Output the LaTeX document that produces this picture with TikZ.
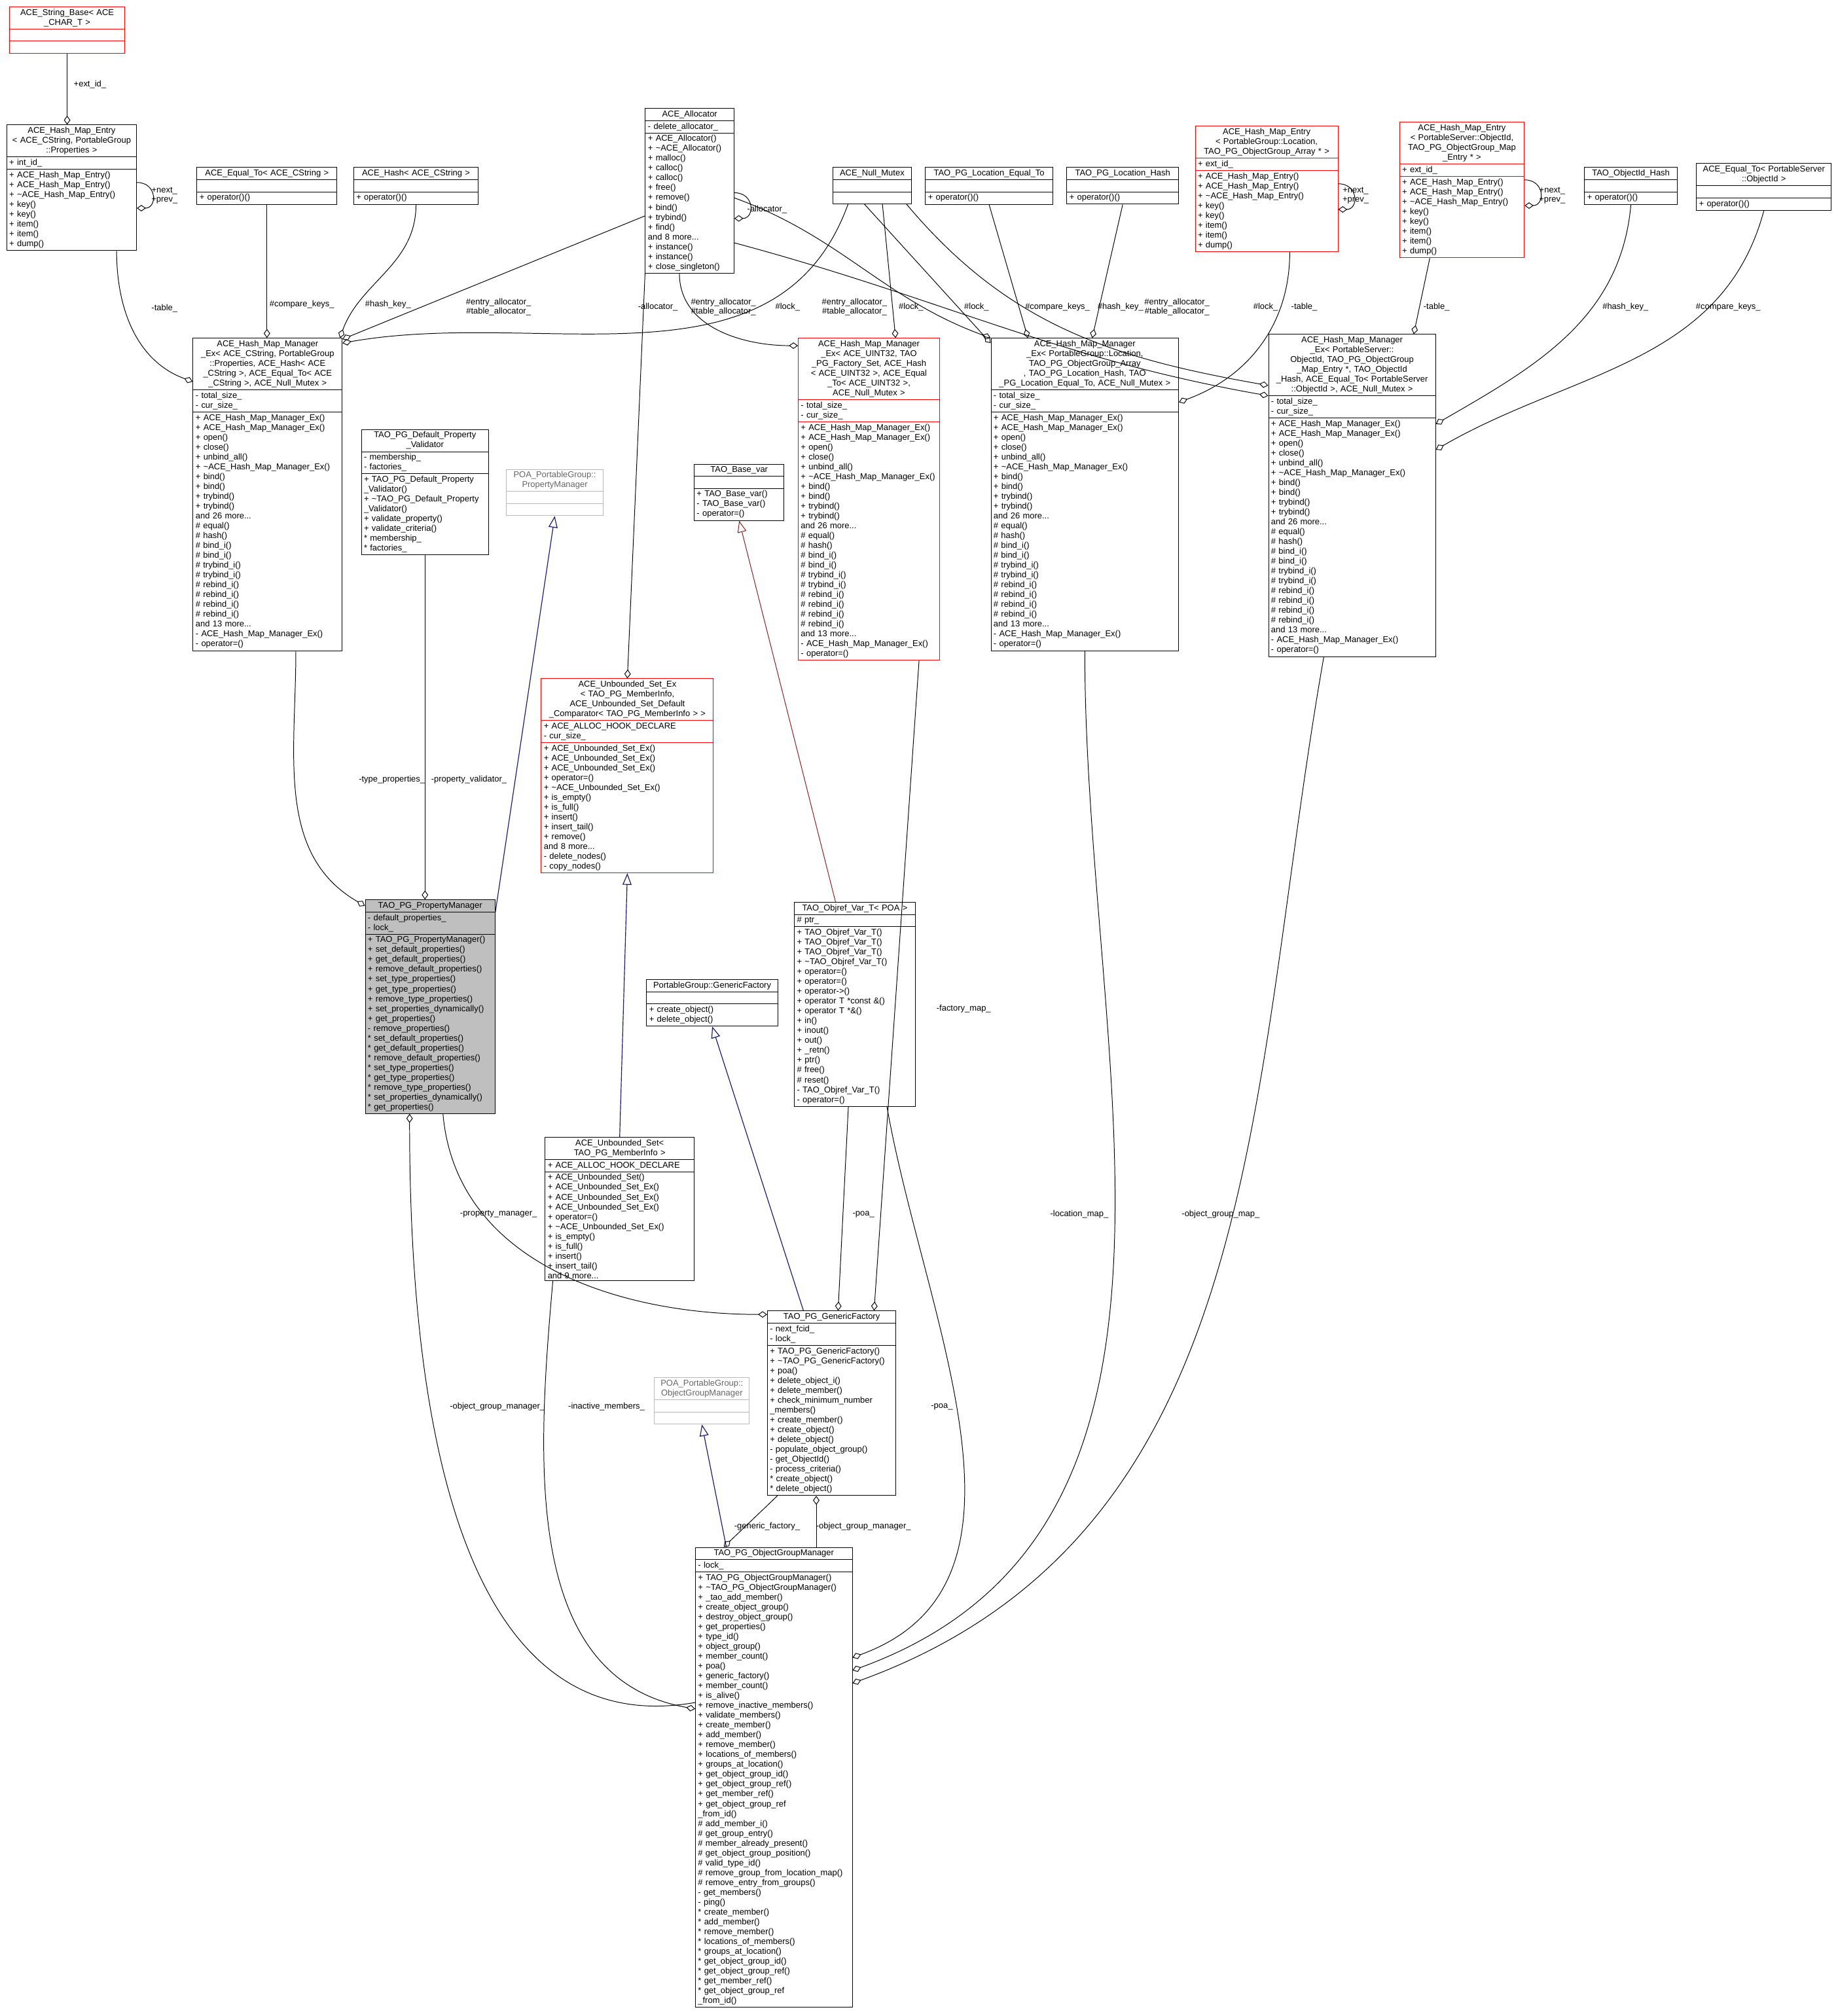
\documentclass[tikz,border=0pt]{standalone}
\usepackage{fontspec}
\setmainfont{Liberation Sans}
\usetikzlibrary{shapes.multipart,arrows.meta}

\definecolor{inhblue}{RGB}{25,25,112}
\definecolor{tmplred}{RGB}{139,26,26}
\definecolor{pmgray}{RGB}{191,191,191}

\newcommand{\umlclass}[7]{%
  \node[umlbox,#4,text width=#3pt] (#1) at (#2) {\centering #5\par\nodepart{second}#6\nodepart{third}#7};}
\newcommand{\nil}{\vphantom{Ag}}
\newcommand{\st}{{}* }
\newcommand{\HMMattr}{- total\_size\_\\- cur\_size\_}
\newcommand{\HMMops}{+ ACE\_Hash\_Map\_Manager\_Ex()\\+ ACE\_Hash\_Map\_Manager\_Ex()\\+ open()\\+ close()\\+ unbind\_all()\\+ \textasciitilde ACE\_Hash\_Map\_Manager\_Ex()\\+ bind()\\+ bind()\\+ trybind()\\+ trybind()\\and 26 more...\\\# equal()\\\# hash()\\\# bind\_i()\\\# bind\_i()\\\# trybind\_i()\\\# trybind\_i()\\\# rebind\_i()\\\# rebind\_i()\\\# rebind\_i()\\\# rebind\_i()\\and 13 more...\\- ACE\_Hash\_Map\_Manager\_Ex()\\- operator=()}
\newcommand{\Entryops}{+ ACE\_Hash\_Map\_Entry()\\+ ACE\_Hash\_Map\_Entry()\\+ \textasciitilde ACE\_Hash\_Map\_Entry()\\+ key()\\+ key()\\+ item()\\+ item()\\+ dump()}

\tikzset{
  umlbox/.style={rectangle split, rectangle split parts=3, draw, anchor=north west,
    align=left, inner xsep=2pt, inner ysep=1.5pt, font=\fontsize{6.6}{7.65}\selectfont, line width=0.5pt},
  redbox/.style={draw=red},
  poabox/.style={draw=gray!55, text=gray!80!black},
  curbox/.style={fill=pmgray},
  lbl/.style={font=\fontsize{6.6}{7.2}\selectfont, align=center, inner sep=0pt},
  agg/.style={draw, line width=0.5pt, -{Diamond[open,length=7pt,width=5pt]}},
  inh/.style={draw=inhblue, line width=0.6pt, -{Triangle[open,length=9pt,width=7pt]}},
  tinh/.style={draw=tmplred, line width=0.5pt, -{Triangle[open,length=9pt,width=7pt]}}
}

\begin{document}
\begin{tikzpicture}[x=1pt,y=-1pt]
\useasboundingbox (0,0) rectangle (1430,1569);

% top row
\umlclass{strbase}{7,5}{86}{redbox}{ACE\_String\_Base< ACE\\\_CHAR\_T >}{\nil}{\nil}
\umlclass{entryA}{5,97}{97}{}{ACE\_Hash\_Map\_Entry\\< ACE\_CString, PortableGroup\\::Properties >}{+ int\_id\_}{\Entryops}
\umlclass{eqA}{153,130}{105}{}{ACE\_Equal\_To< ACE\_CString >}{\nil}{+ operator()()}
\umlclass{hashA}{275,130}{93}{}{ACE\_Hash< ACE\_CString >}{\nil}{+ operator()()}
\umlclass{alloc}{502,84}{65}{}{ACE\_Allocator}{- delete\_allocator\_}{+ ACE\_Allocator()\\+ \textasciitilde ACE\_Allocator()\\+ malloc()\\+ calloc()\\+ calloc()\\+ free()\\+ remove()\\+ bind()\\+ trybind()\\+ find()\\and 8 more...\\+ instance()\\+ instance()\\+ close\_singleton()}
\umlclass{nullmx}{648,130}{57}{}{ACE\_Null\_Mutex}{\nil}{\nil}
\umlclass{loceq}{720,130}{95}{}{TAO\_PG\_Location\_Equal\_To}{\nil}{+ operator()()}
\umlclass{lochash}{830,130}{83}{}{TAO\_PG\_Location\_Hash}{\nil}{+ operator()()}
\umlclass{entryL}{930,98}{107}{redbox}{ACE\_Hash\_Map\_Entry\\< PortableGroup::Location,\\ TAO\_PG\_ObjectGroup\_Array * >}{+ ext\_id\_}{\Entryops}
\umlclass{entryO}{1089,95}{93}{redbox}{ACE\_Hash\_Map\_Entry\\< PortableServer::ObjectId,\\ TAO\_PG\_ObjectGroup\_Map\\\_Entry * >}{+ ext\_id\_}{\Entryops}
\umlclass{oidhash}{1233,130}{68}{}{TAO\_ObjectId\_Hash}{\nil}{+ operator()()}
\umlclass{eqO}{1320,127}{101}{}{ACE\_Equal\_To< PortableServer\\::ObjectId >}{\nil}{+ operator()()}

% map managers
\umlclass{hmmA}{150,263}{112}{}{ACE\_Hash\_Map\_Manager\\\_Ex< ACE\_CString, PortableGroup\\::Properties, ACE\_Hash< ACE\\\_CString >, ACE\_Equal\_To< ACE\\\_CString >, ACE\_Null\_Mutex >}{\HMMattr}{\HMMops}
\umlclass{hmmU}{621,263}{106}{redbox}{ACE\_Hash\_Map\_Manager\\\_Ex< ACE\_UINT32, TAO\\\_PG\_Factory\_Set, ACE\_Hash\\< ACE\_UINT32 >, ACE\_Equal\\\_To< ACE\_UINT32 >, ACE\_Null\_Mutex >}{\HMMattr}{\HMMops}
\umlclass{hmmL}{771,263}{142}{}{ACE\_Hash\_Map\_Manager\\\_Ex< PortableGroup::Location,\\ TAO\_PG\_ObjectGroup\_Array\\*, TAO\_PG\_Location\_Hash, TAO\\\_PG\_Location\_Equal\_To, ACE\_Null\_Mutex >}{\HMMattr}{\HMMops}
\umlclass{hmmO}{987,260}{126}{}{ACE\_Hash\_Map\_Manager\\\_Ex< PortableServer::\\ObjectId, TAO\_PG\_ObjectGroup\\\_Map\_Entry *, TAO\_ObjectId\\\_Hash, ACE\_Equal\_To< PortableServer\\::ObjectId >, ACE\_Null\_Mutex >}{\HMMattr}{\HMMops}

\umlclass{validator}{281,334}{95}{}{TAO\_PG\_Default\_Property\\\_Validator}{- membership\_\\- factories\_}{+ TAO\_PG\_Default\_Property\\\_Validator()\\+ \textasciitilde TAO\_PG\_Default\_Property\\\_Validator()\\+ validate\_property()\\+ validate\_criteria()\\\st membership\_\\\st factories\_}
\umlclass{poapm}{394,365}{71}{poabox}{POA\_PortableGroup::\\PropertyManager}{\nil}{\nil}
\umlclass{basevar}{540,361}{66}{}{TAO\_Base\_var}{\nil}{+ TAO\_Base\_var()\\- TAO\_Base\_var()\\- operator=()}
\umlclass{usetex}{421,528}{130}{redbox}{ACE\_Unbounded\_Set\_Ex\\< TAO\_PG\_MemberInfo,\\ ACE\_Unbounded\_Set\_Default\\\_Comparator< TAO\_PG\_MemberInfo > >}{+ ACE\_ALLOC\_HOOK\_DECLARE\\- cur\_size\_}{+ ACE\_Unbounded\_Set\_Ex()\\+ ACE\_Unbounded\_Set\_Ex()\\+ ACE\_Unbounded\_Set\_Ex()\\+ operator=()\\+ \textasciitilde ACE\_Unbounded\_Set\_Ex()\\+ is\_empty()\\+ is\_full()\\+ insert()\\+ insert\_tail()\\+ remove()\\and 8 more...\\- delete\_nodes()\\- copy\_nodes()}

\umlclass{pgpm}{284,700}{97}{curbox}{TAO\_PG\_PropertyManager}{- default\_properties\_\\- lock\_}{+ TAO\_PG\_PropertyManager()\\+ set\_default\_properties()\\+ get\_default\_properties()\\+ remove\_default\_properties()\\+ set\_type\_properties()\\+ get\_type\_properties()\\+ remove\_type\_properties()\\+ set\_properties\_dynamically()\\+ get\_properties()\\- remove\_properties()\\\st set\_default\_properties()\\\st get\_default\_properties()\\\st remove\_default\_properties()\\\st set\_type\_properties()\\\st get\_type\_properties()\\\st remove\_type\_properties()\\\st set\_properties\_dynamically()\\\st get\_properties()}
\umlclass{objref}{618,702}{90}{}{TAO\_Objref\_Var\_T< POA >}{\# ptr\_}{+ TAO\_Objref\_Var\_T()\\+ TAO\_Objref\_Var\_T()\\+ TAO\_Objref\_Var\_T()\\+ \textasciitilde TAO\_Objref\_Var\_T()\\+ operator=()\\+ operator=()\\+ operator->()\\+ operator T *const \&()\\+ operator T *\&()\\+ in()\\+ inout()\\+ out()\\+ \_retn()\\+ ptr()\\\# free()\\\# reset()\\- TAO\_Objref\_Var\_T()\\- operator=()}
\umlclass{genfac}{503,762}{98}{}{PortableGroup::GenericFactory}{\nil}{+ create\_object()\\+ delete\_object()}
\umlclass{uset}{424,885}{112}{}{ACE\_Unbounded\_Set<\\ TAO\_PG\_MemberInfo >}{+ ACE\_ALLOC\_HOOK\_DECLARE}{+ ACE\_Unbounded\_Set()\\+ ACE\_Unbounded\_Set\_Ex()\\+ ACE\_Unbounded\_Set\_Ex()\\+ ACE\_Unbounded\_Set\_Ex()\\+ operator=()\\+ \textasciitilde ACE\_Unbounded\_Set\_Ex()\\+ is\_empty()\\+ is\_full()\\+ insert()\\+ insert\_tail()\\and 9 more...}
\umlclass{pgfac}{597,1020}{96}{}{TAO\_PG\_GenericFactory}{- next\_fcid\_\\- lock\_}{+ TAO\_PG\_GenericFactory()\\+ \textasciitilde TAO\_PG\_GenericFactory()\\+ poa()\\+ delete\_object\_i()\\+ delete\_member()\\+ check\_minimum\_number\\\_members()\\+ create\_member()\\+ create\_object()\\+ delete\_object()\\- populate\_object\_group()\\- get\_ObjectId()\\- process\_criteria()\\\st create\_object()\\\st delete\_object()}
\umlclass{poaogm}{509,1072}{70}{poabox}{POA\_PortableGroup::\\ObjectGroupManager}{\nil}{\nil}
\umlclass{pgogm}{541,1204}{118}{}{TAO\_PG\_ObjectGroupManager}{- lock\_}{+ TAO\_PG\_ObjectGroupManager()\\+ \textasciitilde TAO\_PG\_ObjectGroupManager()\\+ \_tao\_add\_member()\\+ create\_object\_group()\\+ destroy\_object\_group()\\+ get\_properties()\\+ type\_id()\\+ object\_group()\\+ member\_count()\\+ poa()\\+ generic\_factory()\\+ member\_count()\\+ is\_alive()\\+ remove\_inactive\_members()\\+ validate\_members()\\+ create\_member()\\+ add\_member()\\+ remove\_member()\\+ locations\_of\_members()\\+ groups\_at\_location()\\+ get\_object\_group\_id()\\+ get\_object\_group\_ref()\\+ get\_member\_ref()\\+ get\_object\_group\_ref\\\_from\_id()\\\# add\_member\_i()\\\# get\_group\_entry()\\\# member\_already\_present()\\\# get\_object\_group\_position()\\\# valid\_type\_id()\\\# remove\_group\_from\_location\_map()\\\# remove\_entry\_from\_groups()\\- get\_members()\\- ping()\\\st create\_member()\\\st add\_member()\\\st remove\_member()\\\st locations\_of\_members()\\\st groups\_at\_location()\\\st get\_object\_group\_id()\\\st get\_object\_group\_ref()\\\st get\_member\_ref()\\\st get\_object\_group\_ref\\\_from\_id()}

% connectors of the top row
\draw[agg] (strbase.south) -- (strbase.south |- entryA.north);
\draw[agg] ([yshift=-45pt]entryA.north east) .. controls +(16,0) and +(16,0) .. ([yshift=-65pt]entryA.north east);
\draw[agg] ([xshift=35pt]entryA.south) to[out=-90,in=160] ([yshift=-34pt]hmmA.north west);
\draw[agg] (eqA.south) -- (eqA.south |- hmmA.north);
\draw[agg] (hashA.south) to[out=-90,in=70] ([xshift=-2pt]hmmA.north east);
\draw[agg] ([yshift=-84pt]alloc.north west) -- ([yshift=-1pt]hmmA.north east);
\draw[agg] ([yshift=-66pt]alloc.north east) .. controls +(16,0) and +(16,0) .. ([yshift=-86pt]alloc.north east);
\draw[agg] ([xshift=12pt]nullmx.south west) to[out=-110,in=10] ([yshift=-4pt]hmmA.north east);
\draw[agg] ([xshift=-8pt]alloc.south) to[out=-90,in=180] ([yshift=-6pt]hmmU.north west);
\draw[agg] ([xshift=8pt]nullmx.south) -- ([xshift=76pt]hmmU.north west);
\draw[agg] ([yshift=-70pt]alloc.north east) to[out=-20,in=160] (hmmL.north west);
\draw[agg] ([xshift=-6pt]nullmx.south) -- ([yshift=-4pt]hmmL.north west);
\draw[agg] (loceq.south) -- ([xshift=29pt]hmmL.north west);
\draw[agg] (lochash.south) -- ([xshift=79pt]hmmL.north west);
\draw[agg] ([yshift=-105pt]alloc.north east) to[out=-15,in=170] ([yshift=-48pt]hmmO.north west);
\draw[agg] ([xshift=-4pt]nullmx.south east) to[out=-50,in=170] ([yshift=-40pt]hmmO.north west);
\draw[agg] ([xshift=18pt]entryL.south) to[out=-90,in=20] ([yshift=-50pt]hmmL.north east);
\draw[agg] ([yshift=-45pt]entryL.north east) .. controls +(16,0) and +(16,0) .. ([yshift=-65pt]entryL.north east);
\draw[agg] ([xshift=-25pt]entryO.south) -- ([xshift=48pt]hmmO.north);
\draw[agg] ([yshift=-45pt]entryO.north east) .. controls +(16,0) and +(16,0) .. ([yshift=-65pt]entryO.north east);
\draw[agg] (oidhash.south) to[out=-95,in=30] ([yshift=-70pt]hmmO.north east);
\draw[agg] (eqO.south) to[out=-105,in=30] ([yshift=-90pt]hmmO.north east);

% connectors of the lower part
\draw[agg] ([xshift=22pt]hmmA.south) to[out=-90,in=150] ([yshift=-5pt]pgpm.north west);
\draw[agg] (validator.south) -- (validator.south |- pgpm.north);
\draw[inh] ([yshift=-10pt]pgpm.north east) -- (poapm.south);
\draw[agg] (alloc.south west) -- (usetex.north);
\draw[tinh] ([xshift=-15pt]objref.north) -- (basevar.south);
\draw[inh] (uset.north) -- (usetex.south);
\draw[inh] ([xshift=-22pt]pgfac.north) -- (genfac.south);
\draw[agg] ([xshift=39pt]hmmU.south) -- ([xshift=33pt]pgfac.north);
\draw[agg] ([xshift=-5pt]objref.south) -- ([xshift=5pt]pgfac.north);
\draw[agg] ([xshift=10pt]pgpm.south) to[out=-85,in=180] ([yshift=-3pt]pgfac.north west);
\draw[inh] ([xshift=-37pt]pgogm.north) -- (poaogm.south);
\draw[agg] ([xshift=8pt]pgfac.south west) -- ([xshift=-39pt]pgogm.north);
\draw[agg] ([xshift=33pt]pgogm.north) -- ([xshift=-12pt]pgfac.south);
\draw[agg] ([yshift=-121pt]pgogm.north west) to[out=190,in=-90] ([xshift=-16pt]pgpm.south);
\draw[agg] ([xshift=-52pt]uset.south) to[out=-95,in=170] ([yshift=-126pt]pgogm.north west);
\draw[agg] ([xshift=25pt]objref.south) to[out=-80,in=20] ([yshift=-86pt]pgogm.north east);
\draw[agg] (hmmL.south) to[out=-90,in=20] ([yshift=-96pt]pgogm.north east);
\draw[agg] ([xshift=-22pt]hmmO.south) to[out=-100,in=20] ([yshift=-106pt]pgogm.north east);

% connector labels
\node[lbl] (lextid) at (70,66) {+ext\_id\_};
\node[lbl] (lnextA) at (128,152) {+next\_\\+prev\_};
\node[lbl] (ltableA) at (128,240) {-table\_};
\node[lbl] (lcmpA) at (235,237) {\#compare\_keys\_};
\node[lbl] (lhashA) at (302,237) {\#hash\_key\_};
\node[lbl] (lallocA) at (388,239) {\#entry\_allocator\_\\\#table\_allocator\_};
\node[lbl] (lselfalloc) at (597,163) {-allocator\_};
\node[lbl] (lallocS) at (512,239) {-allocator\_};
\node[lbl] (lallocU) at (563,239) {\#entry\_allocator\_\\\#table\_allocator\_};
\node[lbl] (llockA) at (613,239) {\#lock\_};
\node[lbl] (lallocL) at (665,239) {\#entry\_allocator\_\\\#table\_allocator\_};
\node[lbl] (llockU) at (709,239) {\#lock\_};
\node[lbl] (llockL) at (760,239) {\#lock\_};
\node[lbl] (lcmpL) at (823,239) {\#compare\_keys\_};
\node[lbl] (lhashL) at (872,239) {\#hash\_key\_};
\node[lbl] (lallocO) at (916,239) {\#entry\_allocator\_\\\#table\_allocator\_};
\node[lbl] (llockO) at (985,239) {\#lock\_};
\node[lbl] (ltableL) at (1015,239) {-table\_};
\node[lbl] (lnextL) at (1055,152) {+next\_\\+prev\_};
\node[lbl] (ltableO) at (1118,239) {-table\_};
\node[lbl] (lnextO) at (1208,152) {+next\_\\+prev\_};
\node[lbl] (lhashO) at (1265,239) {\#hash\_key\_};
\node[lbl] (lcmpO) at (1345,239) {\#compare\_keys\_};
\node[lbl] (ltype) at (305,607) {-type\_properties\_};
\node[lbl] (lvalid) at (365,607) {-property\_validator\_};
\node[lbl] (lfmap) at (750,785) {-factory\_map\_};
\node[lbl] (lpoaF) at (672,945) {-poa\_};
\node[lbl] (lpmgr) at (388,945) {-property\_manager\_};
\node[lbl] (llmap) at (840,945) {-location\_map\_};
\node[lbl] (lomap) at (950,945) {-object\_group\_map\_};
\node[lbl] (logmP) at (387,1095) {-object\_group\_manager\_};
\node[lbl] (linact) at (472,1095) {-inactive\_members\_};
\node[lbl] (lpoaO) at (733,1095) {-poa\_};
\node[lbl] (lgfac) at (597,1188) {-generic\_factory\_};
\node[lbl] (logmF) at (672,1188) {-object\_group\_manager\_};
\end{tikzpicture}
\end{document}
